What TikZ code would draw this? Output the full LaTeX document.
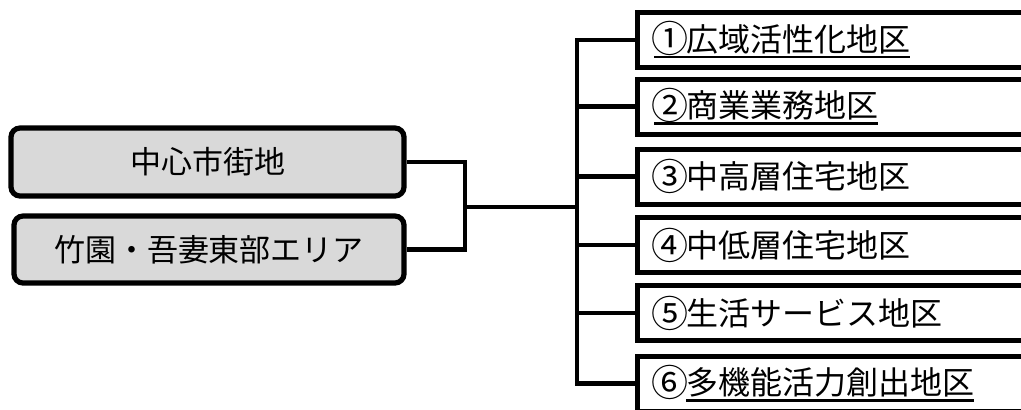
\documentclass[tikz,border=0pt]{standalone}
\usepackage{fontspec}
\setmainfont{Noto Sans CJK JP}
% circled numbers set full-width and a little larger
\newcommand\num[1]{\makebox[1em][c]{\raisebox{-1.6pt}{\fontsize{37}{37}\selectfont #1}}}
% underline drawn as a solid bar below the text
\newcommand\ulbar[1]{\setbox0\hbox{#1}\rlap{\rule[-7pt]{\wd0}{2.6pt}}\box0}
\tikzset{
  conn/.style={line width=4.6pt, line join=miter},
  areabox/.style={draw, line width=5.2pt, rounded corners=9pt, fill=black!15,
    inner sep=0pt, font=\fontsize{31}{36}\selectfont},
  distbox/.style={draw, line width=5pt, fill=white, inner sep=0pt,
    minimum width=420pt, minimum height=55pt},
  distlbl/.style={anchor=west, inner sep=0pt, font=\fontsize{32}{38}\selectfont}
}
\begin{document}
\begin{tikzpicture}[x=1pt,y=-1pt]
  \useasboundingbox (0,0) rectangle (1021,410);
  \clip (0,0) rectangle (1021,410);

  % areas on the left
  \node[areabox, minimum width=393pt, minimum height=68pt] (a1) at (207.5,162) {中心市街地};
  \node[areabox, minimum width=390pt, minimum height=67pt] (a2) at (209,249.5) {竹園・吾妻東部エリア};

  % district boxes on the right (running past the right edge)
  \foreach \i/\y in {1/40, 2/106.5, 3/176.5, 4/245, 5/313, 6/383.5}
    \node[distbox, anchor=west] (r\i) at (635,\y) {};

  \node[distlbl] (t1) at ([xshift=19pt]r1.west) {\ulbar{\num{①}広域活性化地区}};
  \node[distlbl] (t2) at ([xshift=19pt]r2.west) {\ulbar{\num{②}商業業務地区}};
  \node[distlbl] (t3) at ([xshift=19pt]r3.west) {\num{③}中高層住宅地区};
  \node[distlbl] (t4) at ([xshift=19pt]r4.west) {\num{④}中低層住宅地区};
  \node[distlbl] (t5) at ([xshift=19pt]r5.west) {\num{⑤}生活サービス地区};
  \node[distlbl] (t6) at ([xshift=19pt]r6.west) {\num{⑥}\ulbar{多機能活力創出地区}};

  % joint of the two areas
  \coordinate (jn) at (465,207);
  \coordinate (tr) at (577,0);
  \draw[conn] (a1.east) -- (jn |- a1.east) -- (jn |- a2.east) -- (a2.east);
  \draw[conn] (jn) -- (tr |- jn);

  % trunk and branches to the districts
  \draw[conn] (r1.west) -- (tr |- r1.west) -- (tr |- r6.west) -- (r6.west);
  \foreach \i in {2,3,4,5}
    \draw[conn] (tr |- r\i.west) -- (r\i.west);
\end{tikzpicture}
\end{document}
